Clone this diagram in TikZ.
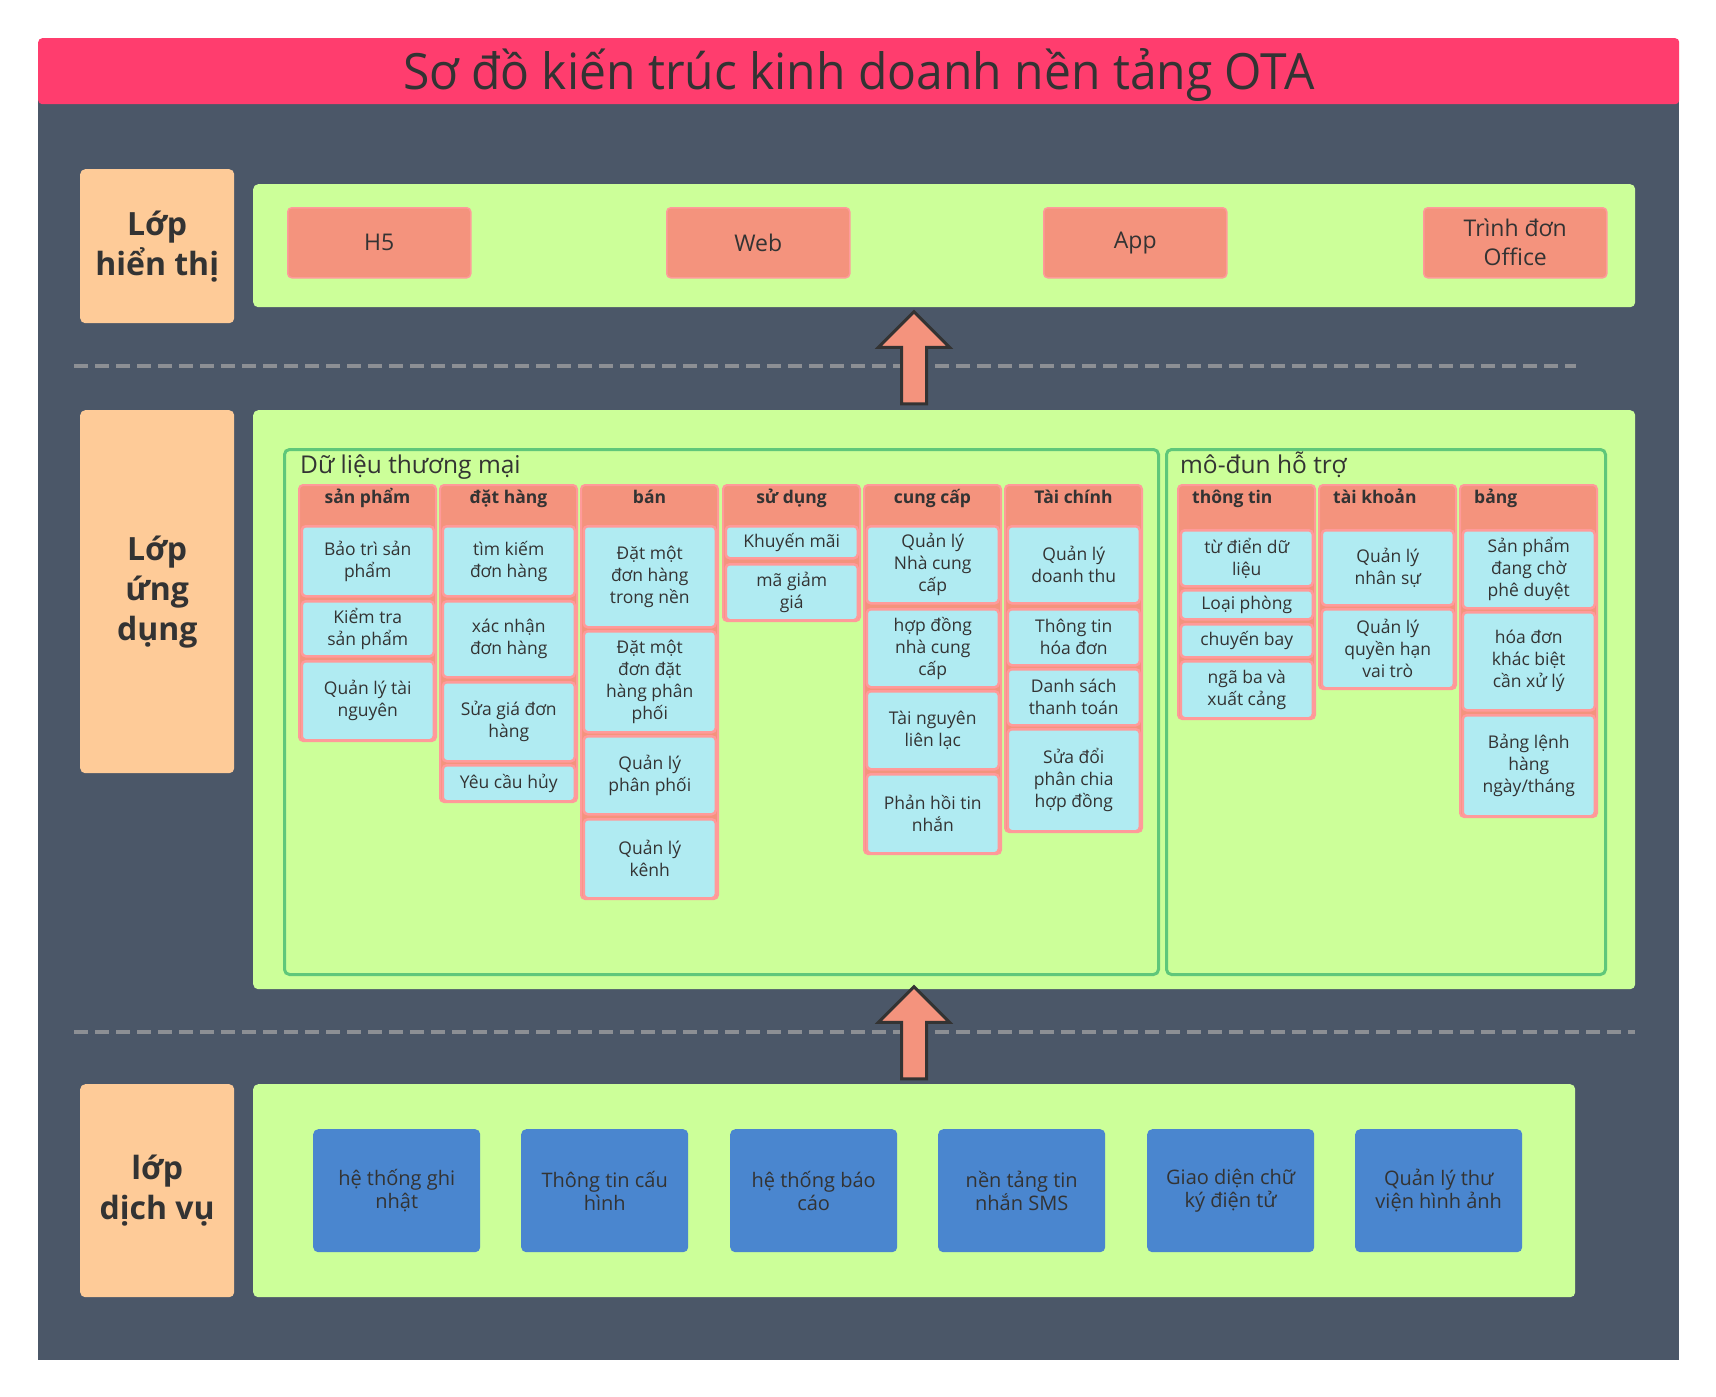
\documentclass[tikz,border=0pt]{standalone}
\usepackage{fontspec}
\setmainfont{Open Sans}
\newfontfamily\titlefont{Open Sans}[FakeStretch=0.96]
\usetikzlibrary{positioning,shapes.arrows}

\definecolor{titlered}{HTML}{FF3D6E}
\definecolor{slate}{HTML}{4B5768}
\definecolor{peach}{HTML}{FECB98}
\definecolor{lime}{HTML}{CCFF99}
\definecolor{salmon}{HTML}{F4937D}
\definecolor{pinkline}{HTML}{FF9A9A}
\definecolor{skyblue}{HTML}{B0EBF2}
\definecolor{leaf}{HTML}{5FC77A}
\definecolor{svcblue}{HTML}{4A86CF}
\definecolor{dashgray}{HTML}{8C8F94}
\definecolor{ink}{HTML}{333333}

\begin{document}
\begin{tikzpicture}[x=1pt,y=-1pt,
  every node/.style={text=ink,inner sep=0pt},
  layerlbl/.style={rectangle,fill=peach,rounded corners=5pt,anchor=north west,minimum width=154pt,align=center,font=\fontsize{32}{40}\selectfont\bfseries},
  panel/.style={rectangle,fill=lime,rounded corners=5pt,anchor=north west},
  portbox/.style={rectangle,fill=salmon,draw=pinkline,line width=1.5pt,rounded corners=4pt,anchor=north west,minimum width=183pt,minimum height=70pt,align=center,font=\fontsize{23}{29}\selectfont},
  group/.style={rectangle,draw=leaf,line width=3pt,rounded corners=5pt,anchor=north west},
  grouptitle/.style={anchor=base west,font=\fontsize{24.5}{29}\selectfont},
  colbox/.style={rectangle,fill=salmon,draw=pinkline,line width=2pt,rounded corners=4pt,anchor=north west,minimum width=137pt},
  colhead/.style={font=\fontsize{17.5}{22}\selectfont\bfseries},
  itembox/.style={rectangle,fill=skyblue,draw=pinkline,line width=2.5pt,rounded corners=4pt,anchor=north west,minimum width=132pt,align=center,font=\fontsize{17.5}{22}\selectfont},
  svcbox/.style={rectangle,fill=svcblue,rounded corners=5pt,anchor=north west,minimum width=167pt,minimum height=123pt,align=center,font=\fontsize{20}{23}\selectfont},
  uparrow/.style={single arrow,shape border rotate=90,fill=salmon,draw=ink,line width=3pt,inner sep=11pt,single arrow head extend=23pt,minimum height=92pt},
  sepline/.style={draw=dashgray,line width=3.5pt,dash pattern=on 14pt off 7pt}
]
% Page and background
\fill[white] (0,0) rectangle (1716,1397);
\fill[slate] (38,98) rectangle (1679,1360);
\node[rectangle,fill=titlered,rounded corners=4pt,anchor=north west,minimum width=1641pt,minimum height=66pt,text height=36pt,text depth=0pt,font=\titlefont\fontsize{50}{54}\selectfont] (title) at (38,38) {Sơ đồ kiến trúc kinh doanh nền tảng OTA};

% Separators
\draw[sepline] (74,366) -- (1576,366);
\draw[sepline] (74,1032) -- (1635,1032);

% Layer labels
\node[layerlbl,minimum height=154pt] (lbldisp) at (80,169) {Lớp\\hiển thị};
\node[layerlbl,minimum height=363pt] (lblapp) at (80,410) {Lớp\\ứng\\dụng};
\node[layerlbl,minimum height=213pt] (lblsvc) at (80,1084) {lớp\\dịch vụ};

% Panels
\node[panel,minimum width=1382pt,minimum height=123pt] (paneldisp) at (253,184) {};
\node[panel,minimum width=1382pt,minimum height=579pt] (panelapp) at (253,410) {};
\node[panel,minimum width=1322pt,minimum height=213pt] (panelsvc) at (253,1084) {};

% Display layer
\foreach \x/\n/\s in {287/h5/H5, 666/web/Web, 1043/app/App, 1423/menu/{Trình đơn\\Office}}
  \node[portbox] (\n) at (\x,207) {\s};

% Application layer groups
\node[group,minimum width=874pt,minimum height=525pt] (grptrade) at (283,448) {};
\node[grouptitle] (grptradelbl) at (300,473) {Dữ liệu thương mại};
\node[group,minimum width=439pt,minimum height=525pt] (grpsup) at (1165,448) {};
\node[grouptitle] (grpsuplbl) at (1180,473) {mô-đun hỗ trợ};

% Columns of the trade group
\node[colbox,minimum height=256pt] (sanpham) at (298,484) {};
\node[colbox,minimum height=317pt] (dathang) at (439,484) {};
\node[colbox,minimum height=414pt] (ban) at (580,484) {};
\node[colbox,minimum height=136pt] (sudung) at (722,484) {};
\node[colbox,minimum height=369pt] (cungcap) at (863,484) {};
\node[colbox,minimum height=347pt] (taichinh) at (1004,484) {};
\foreach \c/\s in {sanpham/sản phẩm, dathang/đặt hàng, ban/bán, sudung/sử dụng, cungcap/cung cấp, taichinh/Tài chính}
  \node[colhead,anchor=base] (\c-h) at ([yshift=-19pt]\c.north) {\s};

% Columns of the support group
\node[colbox,minimum height=234pt] (thongtin) at (1177,484) {};
\node[colbox,minimum height=204pt] (taikhoan) at (1318,484) {};
\node[colbox,minimum height=332pt] (bang) at (1459,484) {};
\foreach \c/\s in {thongtin/thông tin, taikhoan/tài khoản, bang/bảng}
  \node[colhead,anchor=base west] (\c-h) at ([xshift=15pt,yshift=-19pt]\c.north west) {\s};

% Items
\foreach \t/\b/\s [count=\i] in {525/595/{Bảo trì sản\\phẩm}, 600/655/{Kiểm tra\\sản phẩm}, 660/739/{Quản lý tài\\nguyên}}
  \node[itembox,minimum height={(\b-\t)*1pt}] (sanpham-\i) at (300.5,\t) {\s};
\foreach \t/\b/\s [count=\i] in {525/595/{tìm kiếm\\đơn hàng}, 600/676/{xác nhận\\đơn hàng}, 681/760/{Sửa giá đơn\\hàng}, 764/800/{Yêu cầu hủy}}
  \node[itembox,minimum height={(\b-\t)*1pt}] (dathang-\i) at (441.5,\t) {\s};
\foreach \t/\b/\s [count=\i] in {525/626/{Đặt một\\đơn hàng\\trong nền}, 630/731/{Đặt một\\đơn đặt\\hàng phân\\phối}, 735/813/{Quản lý\\phân phối}, 818/897/{Quản lý\\kênh}}
  \node[itembox,minimum height={(\b-\t)*1pt}] (ban-\i) at (582.5,\t) {\s};
\foreach \t/\b/\s [count=\i] in {525/557/{Khuyến mãi}, 563/619/{mã giảm\\giá}}
  \node[itembox,minimum height={(\b-\t)*1pt}] (sudung-\i) at (724.5,\t) {\s};
\foreach \t/\b/\s [count=\i] in {525/602/{Quản lý\\Nhà cung\\cấp}, 608/686/{hợp đồng\\nhà cung\\cấp}, 690/768/{Tài nguyên\\liên lạc}, 773/852/{Phản hồi tin\\nhắn}}
  \node[itembox,minimum height={(\b-\t)*1pt}] (cungcap-\i) at (865.5,\t) {\s};
\foreach \t/\b/\s [count=\i] in {525/602/{Quản lý\\doanh thu}, 608/664/{Thông tin\\hóa đơn}, 668/724/{Danh sách\\thanh toán}, 728/830/{Sửa đổi\\phân chia\\hợp đồng}}
  \node[itembox,minimum height={(\b-\t)*1pt}] (taichinh-\i) at (1006.5,\t) {\s};
\foreach \t/\b/\s [count=\i] in {529/585/{từ điển dữ\\liệu}, 589/618/{Loại phòng}, 623/656/{chuyến bay}, 660/717/{ngã ba và\\xuất cảng}}
  \node[itembox,minimum height={(\b-\t)*1pt}] (thongtin-\i) at (1179.5,\t) {\s};
\foreach \t/\b/\s [count=\i] in {529/604/{Quản lý\\nhân sự}, 608/687/{Quản lý\\quyền hạn\\vai trò}}
  \node[itembox,minimum height={(\b-\t)*1pt}] (taikhoan-\i) at (1320.5,\t) {\s};
\foreach \t/\b/\s [count=\i] in {529/607/{Sản phẩm\\đang chờ\\phê duyệt}, 611/709/{hóa đơn\\khác biệt\\cần xử lý}, 714/815/{Bảng lệnh\\hàng\\ngày/tháng}}
  \node[itembox,minimum height={(\b-\t)*1pt}] (bang-\i) at (1461.5,\t) {\s};

% Service layer
\foreach \x/\n/\s in {313/log/{hệ thống ghi\\nhật}, 521/cfg/{Thông tin cấu\\hình}, 730/rpt/{hệ thống báo\\cáo}, 938/sms/{nền tảng tin\\nhắn SMS}, 1147/esign/{Giao diện chữ\\ký điện tử}, 1355/gallery/{Quản lý thư\\viện hình ảnh}}
  \node[svcbox] (\n) at (\x,1129) {\s};

% Layer arrows
\node[uparrow] (uptop) at (914,364) {};
\node[uparrow] (upbottom) at (914,1039) {};
\end{tikzpicture}
\end{document}
